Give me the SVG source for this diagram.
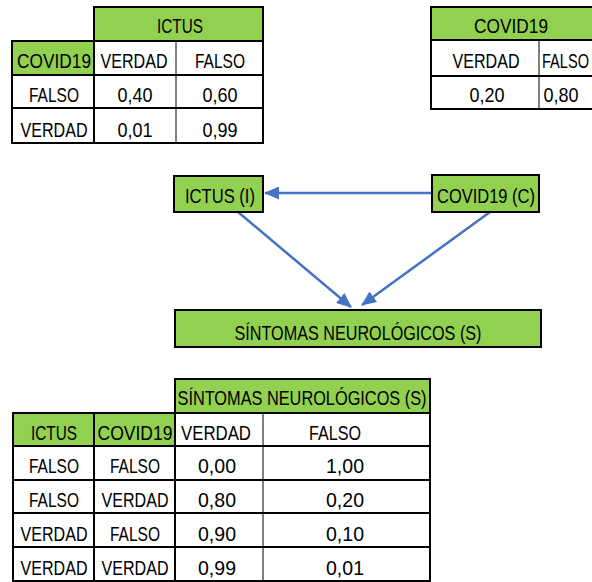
<svg xmlns="http://www.w3.org/2000/svg" width="592" height="582" viewBox="0 0 592 582">
  <style>
    .t { font-family: "Liberation Sans", Arial, sans-serif; font-size: 21px; fill: #000; text-anchor: middle; }
    .g { fill: #92D050; }
    .w { fill: #ffffff; }
    .b { fill: none; stroke: #000; stroke-width: 2; }
    .thin { fill: none; stroke: #000; stroke-width: 1; }
    .edge { fill: none; stroke: #4472C4; stroke-width: 2.5; marker-end: url(#arrow); }
  </style>
  <defs>
    <marker id="arrow" markerUnits="userSpaceOnUse" markerWidth="15" markerHeight="13" refX="14" refY="6.5" orient="auto">
      <path d="M0,0 L15,6.5 L0,13 Z" fill="#4472C4"/>
    </marker>
  </defs>
  <rect width="592" height="582" fill="#ffffff"/>

  <!-- P(ICTUS | COVID19) -->
  <g id="table-ictus">
    <rect class="g" x="94" y="7" width="169" height="34"/>
    <rect class="g" x="12" y="41" width="82" height="34"/>
    <rect class="w" x="94" y="41" width="169" height="102"/>
    <rect class="w" x="12" y="75" width="82" height="68"/>
    <rect class="b" x="94" y="7" width="169" height="34"/>
    <rect class="b" x="12" y="41" width="251" height="102"/>
    <line class="b" x1="12" y1="75" x2="263" y2="75"/>
    <line class="b" x1="12" y1="108" x2="263" y2="108"/>
    <line class="b" x1="94" y1="41" x2="94" y2="143"/>
    <line class="thin" x1="176" y1="41" x2="176" y2="143"/>
    <text class="t" x="180" y="33" textLength="46" lengthAdjust="spacingAndGlyphs">ICTUS</text>
    <text class="t" x="54" y="68" textLength="74" lengthAdjust="spacingAndGlyphs">COVID19</text>
    <text class="t" x="134" y="68" textLength="67" lengthAdjust="spacingAndGlyphs">VERDAD</text>
    <text class="t" x="220" y="68" textLength="50" lengthAdjust="spacingAndGlyphs">FALSO</text>
    <text class="t" x="54" y="102" textLength="50" lengthAdjust="spacingAndGlyphs">FALSO</text>
    <text class="t" x="135" y="102" textLength="35" lengthAdjust="spacingAndGlyphs">0,40</text>
    <text class="t" x="220" y="102" textLength="35" lengthAdjust="spacingAndGlyphs">0,60</text>
    <text class="t" x="54" y="137" textLength="67" lengthAdjust="spacingAndGlyphs">VERDAD</text>
    <text class="t" x="135" y="137" textLength="35" lengthAdjust="spacingAndGlyphs">0,01</text>
    <text class="t" x="220" y="137" textLength="35" lengthAdjust="spacingAndGlyphs">0,99</text>
  </g>

  <!-- P(COVID19) -->
  <g id="table-covid">
    <rect class="g" x="431" y="7" width="170" height="33"/>
    <rect class="w" x="431" y="40" width="170" height="69"/>
    <rect class="b" x="431" y="7" width="170" height="102"/>
    <line class="b" x1="431" y1="40" x2="600" y2="40"/>
    <line class="b" x1="431" y1="76" x2="600" y2="76"/>
    <line class="thin" x1="539" y1="40" x2="539" y2="109"/>
    <text class="t" x="511" y="33" textLength="74" lengthAdjust="spacingAndGlyphs">COVID19</text>
    <text class="t" x="486" y="68" textLength="67" lengthAdjust="spacingAndGlyphs">VERDAD</text>
    <text class="t" x="542" y="68" style="text-anchor:start" textLength="47" lengthAdjust="spacingAndGlyphs">FALSO</text>
    <text class="t" x="487" y="102" textLength="35" lengthAdjust="spacingAndGlyphs">0,20</text>
    <text class="t" x="561" y="102" textLength="35" lengthAdjust="spacingAndGlyphs">0,80</text>
  </g>

  <!-- connectors -->
  <g id="edges">
    <line class="edge" x1="432" y1="193" x2="265" y2="193"/>
    <line class="edge" x1="238" y1="212" x2="351" y2="307"/>
    <line class="edge" x1="490" y1="212" x2="362" y2="305"/>
  </g>

  <g id="node-ictus">
    <rect class="g" x="174" y="176" width="89" height="36"/>
    <rect class="b" x="174" y="176" width="89" height="36"/>
    <text class="t" x="220" y="203" textLength="70" lengthAdjust="spacingAndGlyphs">ICTUS (I)</text>
  </g>
  <g id="node-covid">
    <rect class="g" x="432" y="175" width="107" height="37"/>
    <rect class="b" x="432" y="175" width="107" height="37"/>
    <text class="t" x="486" y="203" textLength="98" lengthAdjust="spacingAndGlyphs">COVID19 (C)</text>
  </g>
  <g id="node-sintomas">
    <rect class="g" x="175" y="310" width="366" height="37"/>
    <rect class="b" x="175" y="310" width="366" height="37"/>
    <text class="t" x="358" y="340" textLength="247" lengthAdjust="spacingAndGlyphs">SÍNTOMAS NEUROLÓGICOS (S)</text>
  </g>

  <!-- P(SÍNTOMAS | ICTUS, COVID19) -->
  <g id="table-sintomas">
    <rect class="g" x="175" y="379" width="255" height="34"/>
    <rect class="g" x="13" y="413" width="162" height="33"/>
    <rect class="w" x="175" y="413" width="255" height="168"/>
    <rect class="w" x="13" y="446" width="162" height="135"/>
    <rect class="b" x="175" y="379" width="255" height="34"/>
    <rect class="b" x="13" y="413" width="417" height="168"/>
    <line class="b" x1="13" y1="446" x2="430" y2="446"/>
    <line class="b" x1="13" y1="480" x2="430" y2="480"/>
    <line class="b" x1="13" y1="513" x2="430" y2="513"/>
    <line class="b" x1="13" y1="547" x2="430" y2="547"/>
    <line class="b" x1="94" y1="413" x2="94" y2="581"/>
    <line class="b" x1="175" y1="413" x2="175" y2="581"/>
    <line class="thin" x1="263" y1="413" x2="263" y2="581"/>
    <text class="t" x="302" y="405" textLength="249" lengthAdjust="spacingAndGlyphs">SÍNTOMAS NEUROLÓGICOS (S)</text>
    <text class="t" x="54" y="440" textLength="46" lengthAdjust="spacingAndGlyphs">ICTUS</text>
    <text class="t" x="135" y="440" textLength="75" lengthAdjust="spacingAndGlyphs">COVID19</text>
    <text class="t" x="216" y="440" textLength="70" lengthAdjust="spacingAndGlyphs">VERDAD</text>
    <text class="t" x="335" y="440" textLength="52" lengthAdjust="spacingAndGlyphs">FALSO</text>
    <text class="t" x="54" y="473" textLength="50" lengthAdjust="spacingAndGlyphs">FALSO</text>
    <text class="t" x="135" y="473" textLength="50" lengthAdjust="spacingAndGlyphs">FALSO</text>
    <text class="t" x="217" y="473" textLength="38" lengthAdjust="spacingAndGlyphs">0,00</text>
    <text class="t" x="345" y="473" textLength="38" lengthAdjust="spacingAndGlyphs">1,00</text>
    <text class="t" x="54" y="507" textLength="50" lengthAdjust="spacingAndGlyphs">FALSO</text>
    <text class="t" x="135" y="507" textLength="67" lengthAdjust="spacingAndGlyphs">VERDAD</text>
    <text class="t" x="217" y="507" textLength="38" lengthAdjust="spacingAndGlyphs">0,80</text>
    <text class="t" x="345" y="507" textLength="38" lengthAdjust="spacingAndGlyphs">0,20</text>
    <text class="t" x="54" y="541" textLength="67" lengthAdjust="spacingAndGlyphs">VERDAD</text>
    <text class="t" x="135" y="541" textLength="50" lengthAdjust="spacingAndGlyphs">FALSO</text>
    <text class="t" x="217" y="541" textLength="38" lengthAdjust="spacingAndGlyphs">0,90</text>
    <text class="t" x="345" y="541" textLength="38" lengthAdjust="spacingAndGlyphs">0,10</text>
    <text class="t" x="54" y="575" textLength="67" lengthAdjust="spacingAndGlyphs">VERDAD</text>
    <text class="t" x="135" y="575" textLength="67" lengthAdjust="spacingAndGlyphs">VERDAD</text>
    <text class="t" x="217" y="575" textLength="38" lengthAdjust="spacingAndGlyphs">0,99</text>
    <text class="t" x="345" y="575" textLength="38" lengthAdjust="spacingAndGlyphs">0,01</text>
  </g>
</svg>
